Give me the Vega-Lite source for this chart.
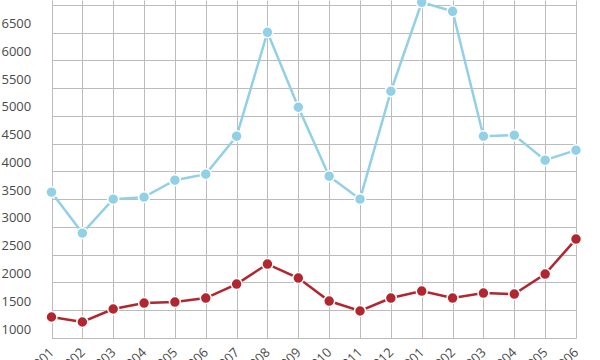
{
  "$schema": "https://vega.github.io/schema/vega-lite/v6.json",
  "width": 592,
  "height": 338,
  "padding": {"left": 0, "top": 0, "right": 8, "bottom": 22},
  "autosize": {"type": "none"},
  "background": "white",
  "config": {
    "view": {"stroke": null},
    "font": "Open Sans",
    "axis": {"gridColor": "#bcbcbc", "gridWidth": 1, "gridOpacity": 1, "domain": false, "ticks": false, "tickSize": 0, "labelColor": "#4a4a4a", "labelFontSize": 13, "labelFont": "Open Sans"}
  },
  "data": {
    "values": [
      {"month": "201901", "series": "A", "value": 3628},
      {"month": "201902", "series": "A", "value": 2890},
      {"month": "201903", "series": "A", "value": 3502},
      {"month": "201904", "series": "A", "value": 3538},
      {"month": "201905", "series": "A", "value": 3844},
      {"month": "201906", "series": "A", "value": 3952},
      {"month": "201907", "series": "A", "value": 4636},
      {"month": "201908", "series": "A", "value": 6508},
      {"month": "201909", "series": "A", "value": 5158},
      {"month": "201910", "series": "A", "value": 3916},
      {"month": "201911", "series": "A", "value": 3502},
      {"month": "201912", "series": "A", "value": 5446},
      {"month": "202001", "series": "A", "value": 7048},
      {"month": "202002", "series": "A", "value": 6886},
      {"month": "202003", "series": "A", "value": 4636},
      {"month": "202004", "series": "A", "value": 4654},
      {"month": "202005", "series": "A", "value": 4204},
      {"month": "202006", "series": "A", "value": 4384},
      {"month": "201901", "series": "B", "value": 1378},
      {"month": "201902", "series": "B", "value": 1288},
      {"month": "201903", "series": "B", "value": 1522},
      {"month": "201904", "series": "B", "value": 1630},
      {"month": "201905", "series": "B", "value": 1648},
      {"month": "201906", "series": "B", "value": 1720},
      {"month": "201907", "series": "B", "value": 1972},
      {"month": "201908", "series": "B", "value": 2332},
      {"month": "201909", "series": "B", "value": 2080},
      {"month": "201910", "series": "B", "value": 1666},
      {"month": "201911", "series": "B", "value": 1486},
      {"month": "201912", "series": "B", "value": 1720},
      {"month": "202001", "series": "B", "value": 1846},
      {"month": "202002", "series": "B", "value": 1720},
      {"month": "202003", "series": "B", "value": 1810},
      {"month": "202004", "series": "B", "value": 1792},
      {"month": "202005", "series": "B", "value": 2152},
      {"month": "202006", "series": "B", "value": 2782}
    ]
  },
  "mark": {"type": "line", "strokeWidth": 2.5, "point": {"filled": true, "size": 120, "stroke": "white", "strokeWidth": 1.5, "opacity": 1}},
  "encoding": {
    "x": {
      "field": "month", "type": "ordinal", "sort": null,
      "scale": {"type": "point", "range": [51.5, 576], "padding": 0},
      "axis": {"title": null, "labelAngle": -45, "labelAlign": "right", "labelBaseline": "middle", "labelPadding": 12, "grid": true}
    },
    "y": {
      "field": "value", "type": "quantitative",
      "scale": {"domain": [1000, 7090], "nice": false, "zero": false},
      "axis": {"title": null, "format": "d", "values": [1000, 1500, 2000, 2500, 3000, 3500, 4000, 4500, 5000, 5500, 6000, 6500, 7000], "labelAlign": "left", "labelBaseline": "alphabetic", "labelPadding": -1, "labelOffset": -5, "grid": true, "labelBound": false, "labelOverlap": false}
    },
    "color": {
      "field": "series", "type": "nominal",
      "scale": {"domain": ["A", "B"], "range": ["#92d0e6", "#b1262f"]},
      "legend": null
    }
  }
}
